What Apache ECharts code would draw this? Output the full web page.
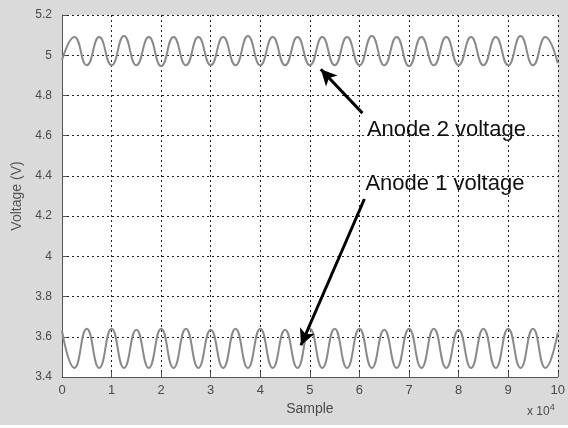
<!DOCTYPE html>
<html>
<head>
<meta charset="utf-8">
<script src="https://cdn.jsdelivr.net/npm/echarts@6/dist/echarts.min.js"></script>
<style>
  html, body { margin: 0; padding: 0; background: #fff; }
  #chart { width: 568px; height: 428px; }
</style>
</head>
<body>
<div id="chart"></div>
<script>
// sample index, in units of 10^4
var sampleX = [0, 0.25, 0.5, 0.75, 1, 1.25, 1.5, 1.75, 2, 2.25, 2.5, 2.75, 3, 3.25, 3.5, 3.75, 4, 4.25, 4.5, 4.75,
               5, 5.25, 5.5, 5.75, 6, 6.25, 6.5, 6.75, 7, 7.25, 7.5, 7.75, 8, 8.25, 8.5, 8.75, 9, 9.25, 9.5, 9.75, 10];
var anode2 = [4.975, 5.09, 4.95, 5.09, 4.95, 5.095, 4.95, 5.09, 4.945, 5.09, 4.95, 5.09, 4.95, 5.09, 4.95, 5.095, 4.95, 5.09, 4.95, 5.09,
              4.95, 5.09, 4.95, 5.09, 4.95, 5.095, 4.95, 5.09, 4.945, 5.09, 4.95, 5.09, 4.95, 5.09, 4.95, 5.09, 4.95, 5.095, 4.95, 5.09, 4.96];
var anode1 = [3.63, 3.445, 3.64, 3.445, 3.64, 3.445, 3.635, 3.445, 3.64, 3.445, 3.64, 3.445, 3.635, 3.445, 3.64, 3.445, 3.64, 3.445, 3.635, 3.445,
              3.64, 3.445, 3.64, 3.445, 3.64, 3.445, 3.635, 3.445, 3.64, 3.445, 3.64, 3.445, 3.635, 3.445, 3.64, 3.445, 3.64, 3.445, 3.64, 3.445, 3.62];
var yTicks = { min: 3.4, max: 5.2, step: 0.2 };
var xTicks = { min: 0, max: 10, step: 1 };

// annotations in data coords: text anchor, arrow tail, arrow head
var notes = [
  { text: 'Anode 2 voltage', at: [6.15, 4.628], from: [6.06, 4.712], to: [5.22, 4.93] },
  { text: 'Anode 1 voltage', at: [6.12, 4.36], from: [6.1, 4.285], to: [4.82, 3.558] }
];

function pairs(xs, ys) {
  var out = [];
  for (var i = 0; i < xs.length; i++) out.push([xs[i], ys[i]]);
  return out;
}

var arrowLines = notes.map(function (n) {
  return [{ coord: n.from }, { coord: n.to }];
});

var txt = '#4a4a4a';
var option = {
  backgroundColor: '#fff',
  animation: false,
  grid: {
    left: 62, top: 15, width: 500, height: 362,
    show: true, backgroundColor: '#fff', borderWidth: 0
  },
  xAxis: {
    type: 'value',
    min: xTicks.min, max: xTicks.max, interval: xTicks.step,
    axisLine: { show: true, onZero: false, lineStyle: { color: '#555', width: 1 } },
    axisTick: { show: true, inside: true, length: 5, lineStyle: { color: '#555' } },
    axisLabel: { color: txt, fontSize: 13, fontFamily: 'Liberation Sans', margin: 7 },
    splitLine: { show: true, lineStyle: { color: '#222', type: [2, 3], width: 1 } },
    name: 'Sample', nameLocation: 'middle', nameGap: 23,
    nameTextStyle: { color: txt, fontSize: 14, fontFamily: 'Liberation Sans' }
  },
  yAxis: {
    type: 'value',
    min: yTicks.min, max: yTicks.max, interval: yTicks.step,
    axisLine: { show: true, lineStyle: { color: '#555', width: 1 } },
    axisTick: { show: true, inside: true, length: 5, lineStyle: { color: '#555' } },
    axisLabel: { color: txt, fontSize: 12, fontFamily: 'Liberation Sans', margin: 10 },
    splitLine: { show: true, lineStyle: { color: '#222', type: [2, 3], width: 1 } },
    name: 'Voltage (V)', nameLocation: 'middle', nameGap: 37,
    nameTextStyle: { color: '#555', fontSize: 14, fontFamily: 'Liberation Sans' }
  },
  series: [{
    name: 'Anode 2',
    type: 'line',
    data: pairs(sampleX, anode2),
    smooth: 0.5,
    showSymbol: false,
    lineStyle: { color: '#8a8a8a', width: 2 },
    markLine: {
      silent: true,
      symbol: ['none', 'arrow'],
      symbolSize: [12, 16],
      label: { show: false },
      lineStyle: { color: '#000', width: 3, type: 'solid' },
      data: arrowLines
    }
  }, {
    name: 'Anode 1',
    type: 'line',
    data: pairs(sampleX, anode1),
    smooth: 0.5,
    showSymbol: false,
    lineStyle: { color: '#8a8a8a', width: 2 }
  }]
};

var myChart = echarts.init(document.getElementById('chart'));
myChart.setOption(option);

var g = [{
  type: 'rect', z: -100, silent: true,
  shape: { x: 0, y: 0, width: 568, height: 425 },
  style: { fill: '#dadada' }
}, {
  type: 'text', left: 527, top: 403, silent: true,
  style: {
    text: 'x 10{s|4}', fill: txt, font: '12px "Liberation Sans"',
    rich: { s: { fontSize: 9, verticalAlign: 'top', padding: [0, 0, 8, 0], fill: txt } }
  }
}];
notes.forEach(function (n) {
  var p = myChart.convertToPixel({ gridIndex: 0 }, n.at);
  g.push({
    type: 'text', x: p[0], y: p[1], silent: true, z: 10,
    style: { text: n.text, fill: '#111', font: '22px "Liberation Sans"', verticalAlign: 'middle' }
  });
});
myChart.setOption({ graphic: g });
</script>
</body>
</html>
